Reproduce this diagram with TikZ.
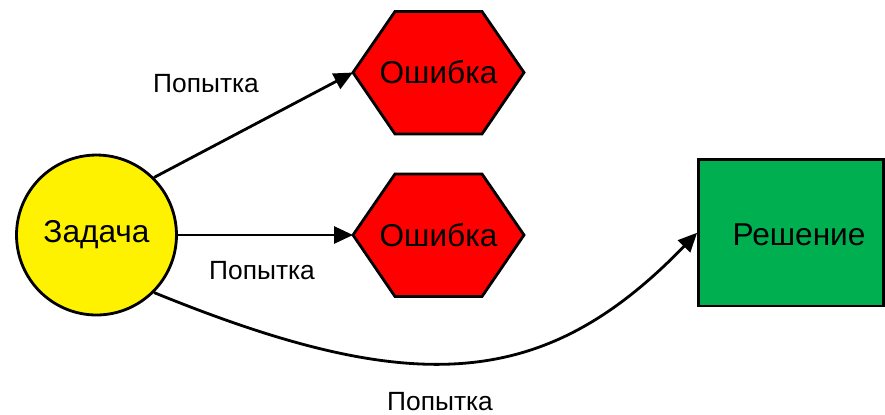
\documentclass[tikz,border=0pt]{standalone}
\usepackage{fontspec}
\setmainfont{Liberation Sans}
\usetikzlibrary{arrows.meta}
\definecolor{okgreen}{HTML}{00B050}

\begin{document}
\begin{tikzpicture}[x=0.02cm,y=-0.02cm,line width=1.6pt,
  big/.style={font=\fontsize{18}{20}\selectfont},
  small/.style={font=\fontsize{15}{18}\selectfont},
  try/.style={-{Triangle[length=0.38cm,width=0.34cm]}}]
\useasboundingbox (0,0) rectangle (885,414);
\node[draw,circle,fill=yellow,minimum size=3.2cm,big] (zadacha) at (96.5,235) {Задача};
% two error hexagons
\draw[fill=red] (353,72.5) coordinate (err1in) -- ++(42,-61) -- ++(87,0) -- ++(42,61) -- ++(-42,61.5) -- ++(-87,0) -- cycle;
\node[big] (err1) at (438.5,72.5) {Ошибка};
\draw[fill=red] (353,235) coordinate (err2in) -- ++(42,-61) -- ++(87,0) -- ++(42,61) -- ++(-42,61.5) -- ++(-87,0) -- cycle;
\node[big] (err2) at (438.5,235) {Ошибка};
\node[draw,fill=okgreen,minimum width=3.7cm,minimum height=2.93cm] (reshenie) at (791,232.75) {};
\node[big] (reshtext) at (799,235) {Решение};
% attempts
\draw[try] (zadacha.45) -- (err1in);
\draw[try] (zadacha.east) -- (err2in);
\draw[try] (zadacha.-45) .. controls (415,399) and (545,390) .. (reshenie.west);
\node[small] (lbl1) at (206,84) {Попытка};
\node[small] (lbl2) at (262,271) {Попытка};
\node[small] (lbl3) at (440,402) {Попытка};
\end{tikzpicture}
\end{document}
